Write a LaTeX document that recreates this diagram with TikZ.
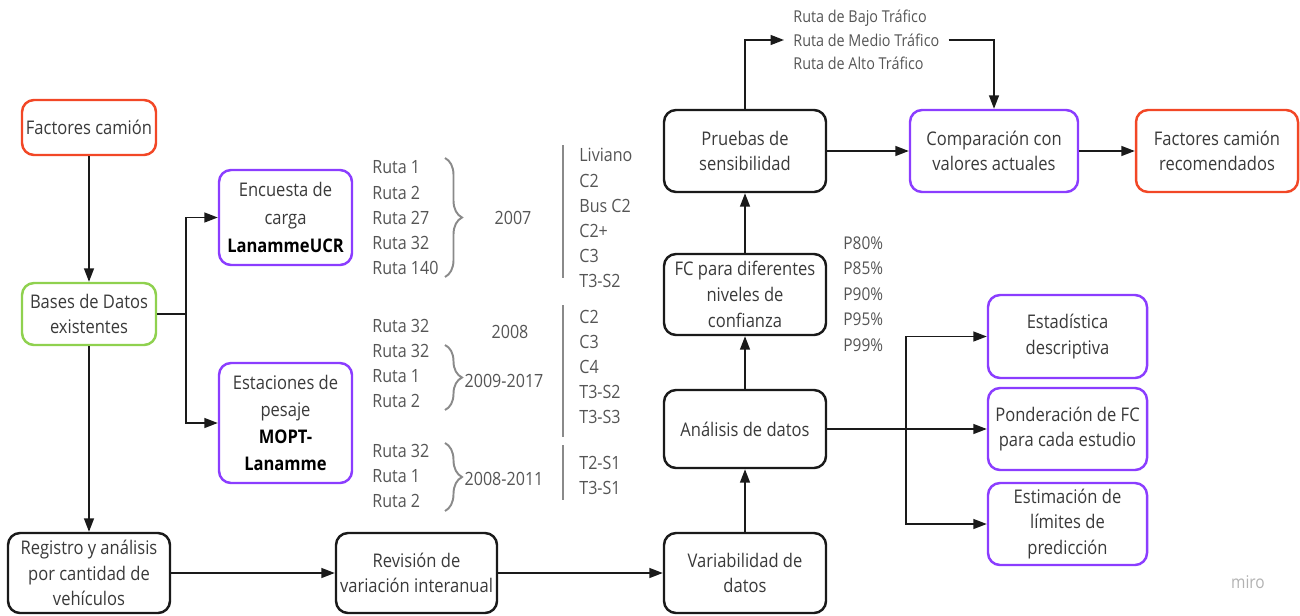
\documentclass[tikz,border=0pt]{standalone}
\usepackage{fontspec}
\setmainfont{Open Sans}[FakeStretch=0.88]
\usetikzlibrary{arrows.meta,decorations.pathreplacing,calc}
\definecolor{cred}{HTML}{F24726}
\definecolor{cgreen}{HTML}{8FD14F}
\definecolor{cpurple}{HTML}{8B3DFF}
\definecolor{cblack}{HTML}{1A1A1A}
\definecolor{txt}{HTML}{3A3A3A}
\definecolor{ltxt}{HTML}{555555}
\definecolor{cgray}{HTML}{8A8A8A}
\newcommand{\mybf}{\fontsize{10.7}{14.6}\selectfont}
\newcommand{\mylf}{\fontsize{10.4}{14}\selectfont}
\newcommand{\mysf}{\fontsize{9.3}{12}\selectfont}
\begin{document}
\begin{tikzpicture}[x=0.02cm,y=-0.02cm,
  box/.style={draw, rounded corners=0.24cm, line width=1.4pt, align=center, inner sep=0pt, text=txt, font=\mybf, fill=white},
  sz/.style n args={2}{minimum width=#1*0.02cm, minimum height=#2*0.02cm},
  rbox/.style={box, draw=cred},
  gbox/.style={box, draw=cgreen},
  pbox/.style={box, draw=cpurple},
  kbox/.style={box, draw=cblack},
  arr/.style={draw=cblack, line width=0.85pt, -{Triangle[length=0.27cm,width=0.2cm]}},
  ln/.style={draw=cblack, line width=0.85pt},
  lst/.style={text=ltxt, font=\mylf, inner sep=0pt, anchor=west},
  sml/.style={text=ltxt, font=\mysf, inner sep=0pt, anchor=west},
  brc/.style={draw=cgray, line width=1.1pt, decorate, decoration={brace, amplitude=0.34cm}},
  sep/.style={draw=cgray, line width=1.2pt}
]
\useasboundingbox (0,0) rectangle (1300,615);

% boxes
\node[rbox, sz={134}{55}] (fc) at (89,127.5) {Factores camión};
\node[gbox, sz={134}{62}] (bd) at (89,314) {Bases de Datos\\existentes};
\node[pbox, sz={133}{95}, font=\fontsize{10.7}{16}\selectfont] (enc) at (285.5,217.5) {Encuesta de\\carga\\\textbf{\color{black}LanammeUCR}};
\node[pbox, sz={133}{120}, font=\fontsize{10.7}{15.3}\selectfont] (est) at (285.5,423) {Estaciones de\\pesaje\\\textbf{\color{black}MOPT-}\\\textbf{\color{black}Lanamme}};
\node[kbox, sz={162}{80}] (reg) at (89,573) {Registro y análisis\\por cantidad de\\vehículos};
\node[kbox, sz={161}{80}] (rev) at (416.5,573) {Revisión de\\variación interanual};
\node[kbox, sz={162}{80}] (var) at (745,573) {Variabilidad de\\datos};
\node[kbox, sz={162}{78}] (ana) at (745,429) {Análisis de datos};
\node[kbox, sz={162}{81}] (fcn) at (745,294.5) {FC para diferentes\\niveles de\\confianza};
\node[kbox, sz={162}{82}] (pru) at (745,151) {Pruebas de\\sensibilidad};
\node[pbox, sz={168}{82}] (com) at (994,151) {Comparación con\\valores actuales};
\node[rbox, sz={162}{82}] (rec) at (1217,151) {Factores camión\\recomendados};
\node[pbox, sz={159}{83}] (desc) at (1067.5,336.5) {Estadística\\descriptiva};
\node[pbox, sz={159}{82}] (pon) at (1067.5,429) {Ponderación de FC\\para cada estudio};
\node[pbox, sz={159}{82}] (lim) at (1067.5,524) {Estimación de\\límites de\\predicción};

% traffic labels
\node[sml] (trafB) at (793,18) {Ruta de Bajo Tráfico};
\node[sml, inner xsep=0.18cm] (trafM) at (784,40) {Ruta de Medio Tráfico};
\node[sml] (trafA) at (793,63) {Ruta de Alto Tráfico};

% percentiles
\foreach \t [count=\i] in {P80\%,P85\%,P90\%,P95\%,P99\%}
  \node[sml, font=\fontsize{10}{12}\selectfont] (p\i) at (843,{243+25.5*(\i-1)}) {\t};

% ruta lists
\foreach \t/\yy [count=\i] in {Ruta 1/167,Ruta 2/193,Ruta 27/218,Ruta 32/243,Ruta 140/268,
    Ruta 32/326,Ruta 32/351,Ruta 1/376,Ruta 2/401,
    Ruta 32/451,Ruta 1/476,Ruta 2/501}
  \node[lst] (r\i) at (372,\yy) {\t};

% vehicle lists
\foreach \t/\yy [count=\i] in {Liviano/155,C2/181,Bus C2/206,C2+/231,C3/256,T3-S2/281,
    C2/317,C3/342,C4/367,T3-S2/392,T3-S3/417,
    T2-S1/463,T3-S1/488}
  \node[lst] (v\i) at (579,\yy) {\t};

% years
\node[text=ltxt, font=\mylf, inner sep=0pt] (y1) at (513,218) {2007};
\node[text=ltxt, font=\mylf, inner sep=0pt] (y2) at (510,332) {2008};
\node[text=ltxt, font=\mylf, inner sep=0pt] (y3) at (504,381) {2009-2017};
\node[text=ltxt, font=\mylf, inner sep=0pt] (y4) at (504,479) {2008-2011};

% braces
\draw[brc] (445,158) -- (445,277);
\draw[brc] (445,345) -- (445,410);
\draw[brc] (445,443) -- (445,511);

% separators
\draw[sep] (563,145) -- (563,278);
\draw[sep] (563,305) -- (563,437);
\draw[sep] (563,445) -- (563,500);

% watermark
\node[text=black!30, font=\fontsize{10}{11}\selectfont, inner sep=0pt] (miro) at (1248,582) {miro};

% connectors
\coordinate (j1) at (186,314);
\coordinate (j2) at (906,429);
\draw[arr] (fc) -- (bd);
\draw[arr] (bd) -- (reg);
\draw[ln] (bd.east) -- (j1);
\draw[arr] (j1) |- (enc.west);
\draw[arr] (j1) |- (est.west);
\draw[arr] (reg) -- (rev);
\draw[arr] (rev) -- (var);
\draw[arr] (var) -- (ana);
\draw[arr] (ana) -- (fcn);
\draw[arr] (fcn) -- (pru);
\draw[arr] (pru) -- (com);
\draw[arr] (com) -- (rec);
\draw[arr] (ana) -- (pon);
\draw[arr] (j2) |- (desc.west);
\draw[arr] (j2) |- (lim.west);
\draw[arr] (pru.north) |- (trafM.west);
\draw[arr] (trafM.east) -| (com.north);
\end{tikzpicture}
\end{document}
